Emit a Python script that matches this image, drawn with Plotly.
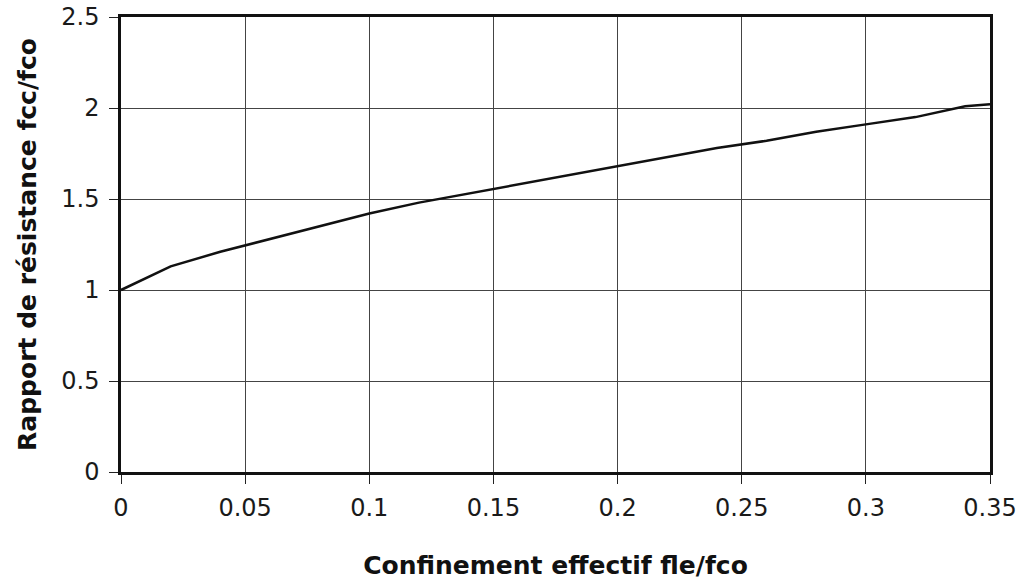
import plotly.graph_objects as go

# Confinement effectif fle/fco (x) and rapport de résistance fcc/fco (y)
confinement = [0.0, 0.02, 0.04, 0.06, 0.08, 0.10, 0.12, 0.14, 0.16, 0.18,
               0.20, 0.22, 0.24, 0.26, 0.28, 0.30, 0.32, 0.34, 0.35]
rapport = [1.00, 1.13, 1.21, 1.28, 1.35, 1.42, 1.48, 1.53, 1.58, 1.63,
           1.68, 1.73, 1.78, 1.82, 1.87, 1.91, 1.95, 2.01, 2.02]

x_title = "Confinement effectif fle/fco"
y_title = "Rapport de résistance fcc/fco"

fig = go.Figure()
fig.add_trace(go.Scatter(x=confinement, y=rapport, mode="lines",
                         line=dict(color="#111111", width=2.5),
                         showlegend=False))

tick_font = dict(family="DejaVu Sans", size=24, color="#1a1a1a")
title_font = dict(family="DejaVu Sans", size=25, color="#111111", weight="bold")

fig.update_xaxes(range=[0, 0.35], dtick=0.05, tick0=0,
                 showgrid=True, gridcolor="#444444", gridwidth=1.2,
                 showline=True, linecolor="#111111", linewidth=2.5, mirror=True,
                 ticks="outside", ticklen=9, tickcolor="#222222", tickwidth=1.2,
                 tickfont=tick_font, zeroline=False, ticklabelstandoff=3,
                 title=dict(text=x_title, font=title_font, standoff=36))
fig.update_yaxes(range=[0, 2.5], dtick=0.5, tick0=0,
                 showgrid=True, gridcolor="#444444", gridwidth=1.2,
                 showline=True, linecolor="#111111", linewidth=2.5, mirror=True,
                 ticks="outside", ticklen=9, tickcolor="#222222", tickwidth=1.2,
                 tickfont=tick_font, zeroline=False, ticklabelstandoff=5,
                 title=dict(text=y_title, font=title_font, standoff=18))

fig.update_layout(width=1032, height=581,
                  margin=dict(l=121, r=42, t=17, b=109, autoexpand=False),
                  paper_bgcolor="white", plot_bgcolor="white")

fig.write_html("out.html")
